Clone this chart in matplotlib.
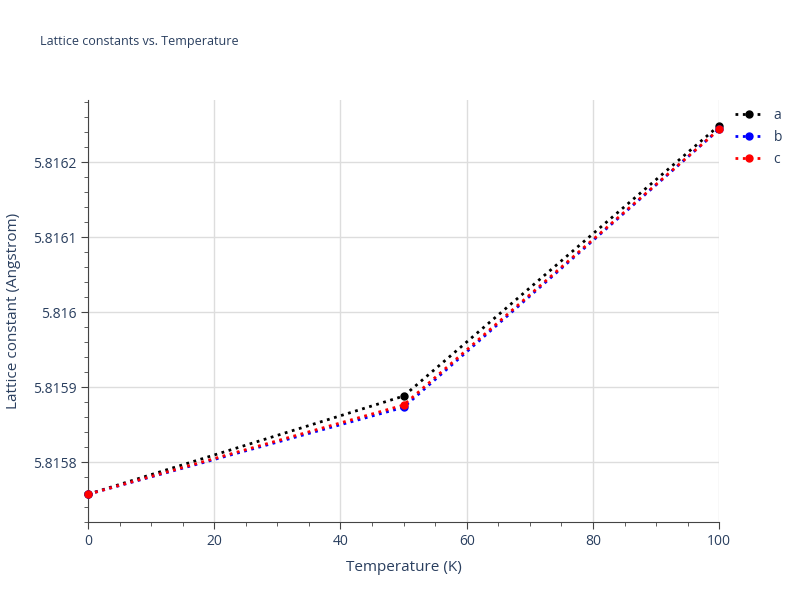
import matplotlib.pyplot as plt
from matplotlib.ticker import MultipleLocator, FixedLocator

temperature = [0, 50, 100]
lat_a = [5.815757, 5.815888, 5.816249]
lat_b = [5.815757, 5.815873, 5.816244]
lat_c = [5.815757, 5.815876, 5.816244]
series_names = ["a", "b", "c"]
series_colors = ["black", "blue", "red"]
yticks = [5.8158, 5.8159, 5.816, 5.8161, 5.8162]
ytick_labels = ["5.8158", "5.8159", "5.816", "5.8161", "5.8162"]

plt.rcParams['font.family'] = ['Open Sans', 'DejaVu Sans']
fig = plt.figure(figsize=(8, 6), dpi=100)
ax = fig.add_axes([0.11, 0.13, 0.789, 0.7033])

for vals, name, col in zip([lat_a, lat_b, lat_c], series_names, series_colors):
    ax.plot(temperature, vals, linestyle=':', color=col, linewidth=2,
            marker='o', markersize=5, label=name, clip_on=False, zorder=3)

ax.set_xlim(0, 100)
ax.set_ylim(5.81572, 5.816283)
ax.set_yticks(yticks)
ax.set_yticklabels(ytick_labels)
ax.xaxis.set_major_locator(MultipleLocator(20))
ax.xaxis.set_minor_locator(MultipleLocator(5))
ax.yaxis.set_minor_locator(MultipleLocator(0.00002))
ax.grid(True, which='major', color='#dddddd', linewidth=1)
ax.set_axisbelow(True)
for s in ['top', 'right']:
    ax.spines[s].set_visible(False)
for s in ['left', 'bottom']:
    ax.spines[s].set_color('#444444')
ax.tick_params(which='major', length=5, color='#444444', labelcolor='#2a3f5f', labelsize=10)
ax.tick_params(which='minor', length=3, color='#444444')
ax.set_xlabel("Temperature (K)", color='#2a3f5f', fontsize=11, labelpad=8)
ax.set_ylabel("Lattice constant (Angstrom)", color='#2a3f5f', fontsize=11, labelpad=8)
fig.text(0.05, 0.925, "Lattice constants vs. Temperature", color='#2a3f5f', fontsize=9)

leg = ax.legend(loc='upper left', bbox_to_anchor=(1.005, 1.01), frameon=False,
                handlelength=2, fontsize=10, labelcolor='#2a3f5f')
fig.savefig("out.png")
